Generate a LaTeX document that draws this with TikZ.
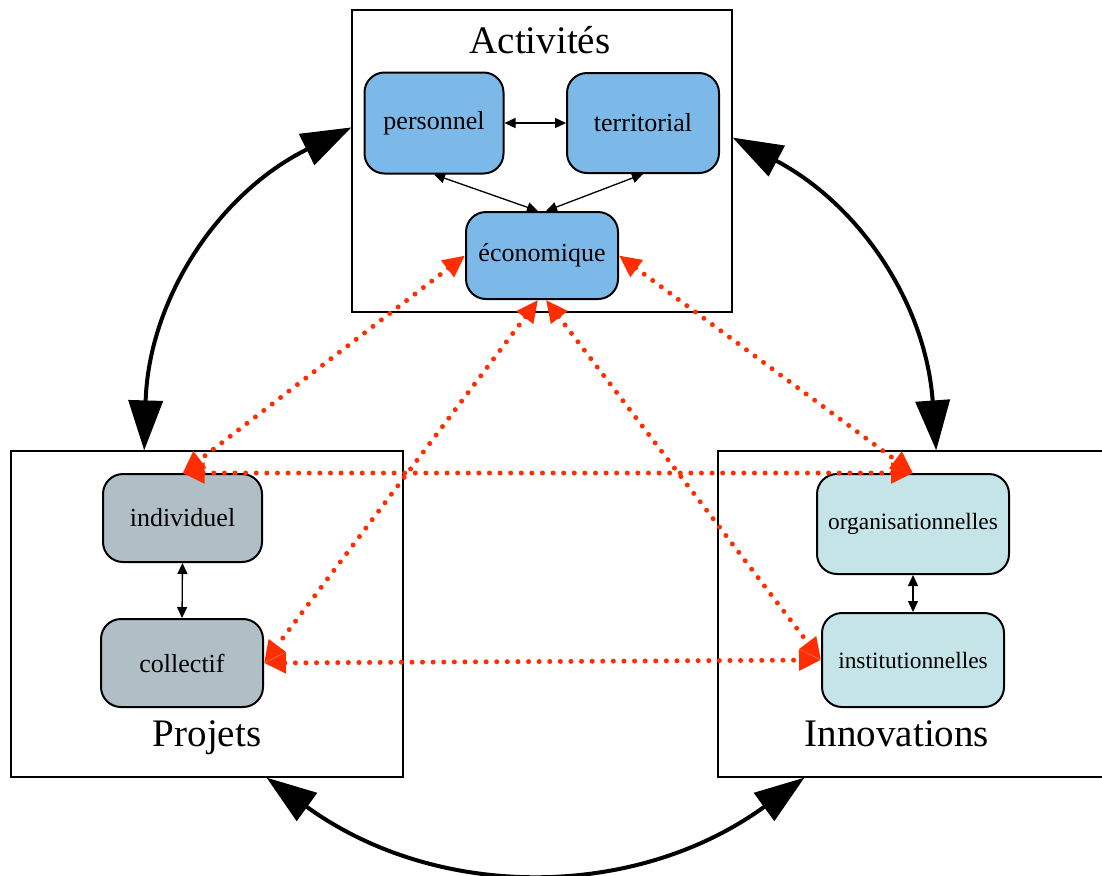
\documentclass[tikz,border=0pt]{standalone}
\usepackage{fontspec}
\setmainfont{Liberation Serif}
\usetikzlibrary{arrows.meta}

\definecolor{linkred}{RGB}{255,45,0}
\definecolor{actblue}{RGB}{125,185,232}
\definecolor{projgray}{RGB}{176,190,197}
\definecolor{innocyan}{RGB}{197,228,232}

\begin{document}
\begin{tikzpicture}[x=0.5pt, y=-0.5pt,
    box/.style={draw, line width=0.6pt, inner sep=0pt},
    item/.style={draw, line width=1pt, rounded corners=10pt, inner sep=0pt, font=\fontsize{13}{15}\selectfont},
    title/.style={anchor=base, inner sep=0pt, font=\fontsize{19.5}{22}\selectfont},
    tie/.style={line width=0.65pt, arrows={Triangle[length=5.5pt,width=5pt]-Triangle[length=5.5pt,width=5pt]}},
    bigarc/.style={line width=2pt, arrows={Triangle[length=25pt,width=17pt]-Triangle[length=25pt,width=17pt]}},
    dots/.style={linkred, line width=2.5pt, line cap=round, dash pattern=on 0pt off 5.3pt,
        arrows={Triangle[length=11pt,width=10pt]-Triangle[length=11pt,width=10pt]}}]

    \useasboundingbox (0,0) rectangle (1102,875);
    \clip (0,0) rectangle (1102,875);

    % the three groups
    \path node (act) [box, minimum width=190pt, minimum height=151pt] at (542,161) {};
    \path node (proj) [box, minimum width=196pt, minimum height=163pt] at (207,614) {};
    \path node (inno) [box, minimum width=201pt, minimum height=163pt] at (919,614) {};

    \path node (acttitle) [title] at (540,53) {Activités};
    \path node (projtitle) [title] at (207,746) {Projets};
    \path node (innotitle) [title] at (897,746) {Innovations};

    \path node (pers) [item, fill=actblue, minimum width=69.5pt, minimum height=50.5pt] at (434,123) {personnel};
    \path node (terr) [item, fill=actblue, minimum width=76pt, minimum height=50pt] at (643,123) {territorial};
    \path node (eco) [item, fill=actblue, minimum width=76pt, minimum height=43.5pt] at (542,255.5) {économique};

    \path node (indiv) [item, fill=projgray, minimum width=79.5pt, minimum height=44pt] at (182.5,518) {individuel};
    \path node (colle) [item, fill=projgray, minimum width=81pt, minimum height=44pt] at (182,663) {collectif};

    \path node (orga) [item, fill=innocyan, minimum width=96pt, minimum height=50pt, font=\fontsize{11.7}{14}\selectfont] at (913,524) {organisationnelles};
    \path node (insti) [item, fill=innocyan, minimum width=91pt, minimum height=47pt, font=\fontsize{11.7}{14}\selectfont] at (913,660) {institutionnelles};

    % links inside the groups
    \draw[tie] (pers.east) -- (terr.west);
    \draw[tie] (pers.south) -- ([xshift=-2pt]eco.north);
    \draw[tie] (terr.south) -- ([xshift=2pt]eco.north);
    \draw[tie] (indiv.south) -- (colle.north);
    \draw[tie] (orga.south) -- (insti.north);

    % dotted links
    \draw[dots] (eco.west) -- (indiv.north);
    \draw[dots] ([xshift=-2pt]eco.south) -- (colle.east);
    \draw[dots] ([xshift=2pt]eco.south) -- (insti.west);
    \draw[dots] (eco.east) -- (orga.north);
    \draw[dots] (indiv.north) -- (orga.north);
    \draw[dots] (colle.east) -- (insti.west);

    % the big circle
    \draw[bigarc] (act.170) to[bend right=31] (proj.111);
    \draw[bigarc] (act.7) to[bend left=29] (inno.84);
    \draw[bigarc] (proj.-70) to[bend right=36] (inno.235);

\end{tikzpicture}
\end{document}
